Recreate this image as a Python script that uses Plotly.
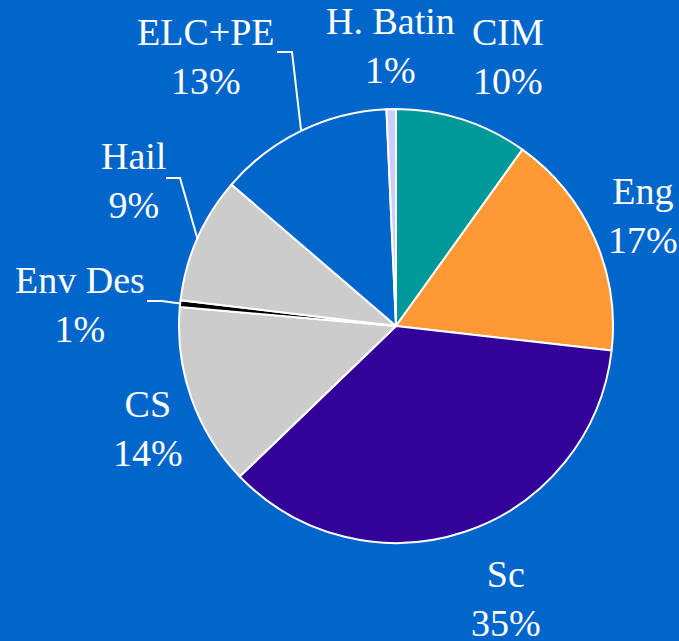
import math
import plotly.graph_objects as go

# ---- data ----
categories = ["CIM", "Eng", "Sc", "CS", "Env Des", "Hail", "ELC+PE", "H. Batin"]
shares = [9.9, 16.9, 36.0, 13.6, 0.5, 9.4, 13.0, 0.7]
pct_labels = ["10%", "17%", "35%", "14%", "1%", "9%", "13%", "1%"]
colors = ["#009999", "#FF9933", "#330099", "#CCCCCC", "#000000", "#CCCCCC", "#0066CC", "#CCCCFF"]

W, H = 679, 641
BG = "#0066CC"
FONT = "Times New Roman, Liberation Serif, serif"

# pie geometry (pixels)
CX, CY, R = 396, 326, 217

def px(x):
    return x / W

def py(y):
    return 1 - y / H

# label block centres (pixels) and leader elbows
label_pos = {
    "CIM": (508, 56),
    "Eng": (643, 215),
    "Sc": (506, 598),
    "CS": (148, 428),
    "Env Des": (80, 304),
    "Hail": (133, 180),
    "ELC+PE": (206, 56),
    "H. Batin": (391, 45),
}
leaders = {  # (start of horizontal segment, elbow)
    "ELC+PE": ((277, 52), (292, 52)),
    "Hail": ((166, 178), (180, 178)),
    "Env Des": ((147, 301), (162, 301)),
}

fig = go.Figure()
fig.add_trace(go.Pie(
    labels=categories,
    values=shares,
    sort=False,
    direction="clockwise",
    rotation=0,
    textinfo="none",
    hoverinfo="label+percent",
    marker=dict(colors=colors, line=dict(color="white", width=2)),
    domain=dict(x=[px(CX - R), px(CX + R)], y=[py(CY + R), py(CY - R)]),
    showlegend=False,
))

total = sum(shares)
cum = 0.0
shapes = []
annotations = []
for cat, v, pl in zip(categories, shares, pct_labels):
    mid = (cum + v / 2) / total * 2 * math.pi
    cum += v
    ex = CX + R * math.sin(mid)
    ey = CY - R * math.cos(mid)
    lx, ly = label_pos[cat]
    annotations.append(dict(
        x=px(lx), y=py(ly), xref="paper", yref="paper",
        text=f"{cat}<br>{pl}", showarrow=False,
        xanchor="center", yanchor="middle", align="center",
        font=dict(family=FONT, size=38, color="white"),
    ))
    if cat in leaders:
        (sx, sy), (bx, by) = leaders[cat]
        path = f"M {px(sx)} {py(sy)} L {px(bx)} {py(by)} L {px(ex)} {py(ey)}"
        shapes.append(dict(type="path", xref="paper", yref="paper", path=path,
                           line=dict(color="white", width=2)))

fig.update_layout(
    width=W, height=H,
    margin=dict(l=0, r=0, t=0, b=0),
    paper_bgcolor=BG, plot_bgcolor=BG,
    annotations=annotations,
    shapes=shapes,
)

fig.write_html(
    "out.html",
    config={"displayModeBar": False},
    post_script="document.body.style.margin='0';document.body.style.background='#0066CC';",
)
